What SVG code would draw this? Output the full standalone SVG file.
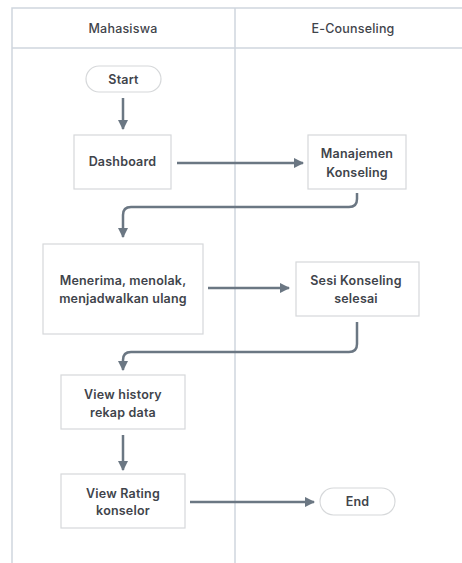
<svg xmlns="http://www.w3.org/2000/svg" width="462" height="563" viewBox="0 0 462 563">
<defs>
<style>
.lane{stroke:#cfd6de;stroke-width:1.5;fill:none}
.node{fill:#ffffff;stroke:#d6d8da;stroke-width:1.2}
.t{font-family:Inter,"Noto Sans","Liberation Sans",sans-serif;font-size:12.5px;font-weight:600;fill:#3f444b;text-anchor:middle;letter-spacing:0.2px}
.h{font-family:Inter,"Noto Sans","Liberation Sans",sans-serif;font-size:12.5px;font-weight:500;fill:#3f444b;text-anchor:middle;letter-spacing:0.2px}
.c{stroke:#6b7783;stroke-width:2.5;fill:none}
</style>
<marker id="ah" viewBox="0 0 10 10" refX="9" refY="5" markerWidth="4.2" markerHeight="4.2" orient="auto" markerUnits="strokeWidth">
<path d="M0,0 L10,5 L0,10 z" fill="#6b7783"/>
</marker>
</defs>
<rect width="462" height="563" fill="#ffffff"/>
<g id="lanes">
<path class="lane" d="M12,563 V8 H462"/>
<path class="lane" d="M12,48 H462"/>
<path class="lane" d="M235,8 V563"/>
<text class="h" x="123" y="33">Mahasiswa</text>
<text class="h" x="353" y="33">E-Counseling</text>
</g>
<g id="connectors">
<path class="c" marker-end="url(#ah)" d="M123,98 V129"/>
<path class="c" marker-end="url(#ah)" d="M177,163 H303"/>
<path class="c" marker-end="url(#ah)" d="M357,193 V199 Q357,207 349,207 H131 Q123,207 123,215 V237"/>
<path class="c" marker-end="url(#ah)" d="M208,288 H289"/>
<path class="c" marker-end="url(#ah)" d="M357,322 V344 Q357,352 349,352 H131 Q123,352 123,360 V370"/>
<path class="c" marker-end="url(#ah)" d="M123,435 V470"/>
<path class="c" marker-end="url(#ah)" d="M190,502 H314"/>
</g>
<g id="start">
<rect class="node" x="86" y="66" width="75" height="26" rx="13"/>
<text class="t" x="123.5" y="83.5">Start</text>
</g>
<g id="dashboard">
<rect class="node" x="74" y="135" width="97" height="54"/>
<text class="t" x="122.5" y="166">Dashboard</text>
</g>
<g id="manajemen">
<rect class="node" x="308" y="135" width="98" height="54"/>
<text class="t" x="357" y="158">Manajemen</text>
<text class="t" x="357" y="177">Konseling</text>
</g>
<g id="menerima">
<rect class="node" x="43" y="244" width="160" height="90"/>
<text class="t" x="123" y="285">Menerima, menolak,</text>
<text class="t" x="123" y="303">menjadwalkan ulang</text>
</g>
<g id="sesi">
<rect class="node" x="296" y="262" width="123" height="54"/>
<text class="t" x="356" y="285">Sesi Konseling</text>
<text class="t" x="356" y="303">selesai</text>
</g>
<g id="history">
<rect class="node" x="61" y="375" width="124" height="54"/>
<text class="t" x="123" y="399">View history</text>
<text class="t" x="123" y="417">rekap data</text>
</g>
<g id="rating">
<rect class="node" x="61" y="474" width="124" height="54"/>
<text class="t" x="123" y="498">View Rating</text>
<text class="t" x="123" y="515">konselor</text>
</g>
<g id="end">
<rect class="node" x="320" y="488" width="75" height="27" rx="13.5"/>
<text class="t" x="357.5" y="506">End</text>
</g>
</svg>
